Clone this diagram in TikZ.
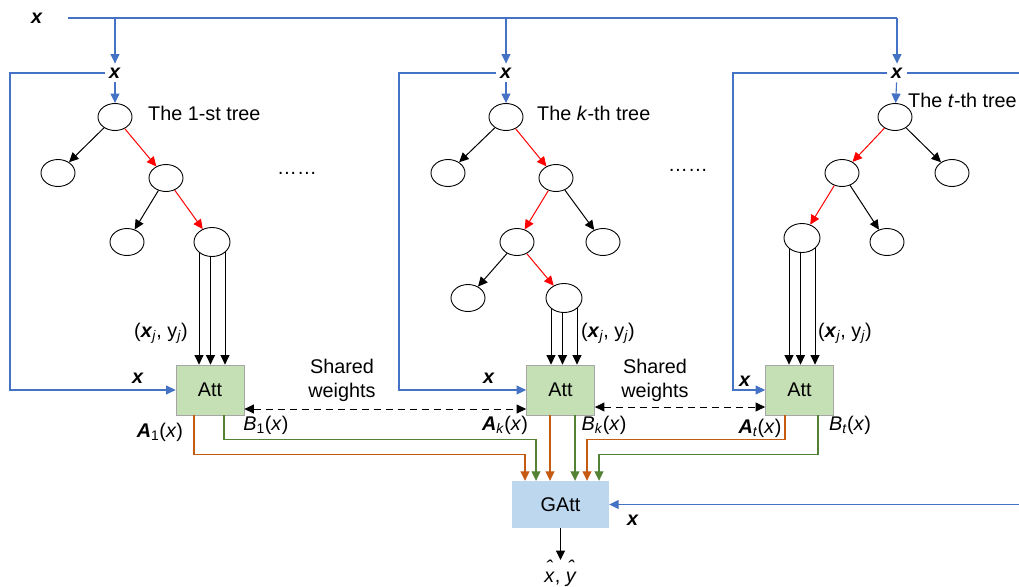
\documentclass[tikz,border=0pt]{standalone}
\usepackage{fontspec}
\setmainfont{Liberation Sans}
\usetikzlibrary{arrows.meta,shapes.geometric,calc}
\definecolor{xblue}{HTML}{4472C4}
\definecolor{aorange}{HTML}{C55A11}
\definecolor{bgreen}{HTML}{548235}
\definecolor{attfill}{HTML}{C5E0B4}
\definecolor{gattfill}{HTML}{BDD7EE}
\pgfdeclarelayer{background}
\pgfsetlayers{background,main}
\newcommand{\bx}{\textbf{\textit{x}}}
% italic letter with a circumflex set well above it
\newcommand{\hatit}[1]{\setbox0\hbox{\textit{#1}}\rlap{\hbox to\wd0{\hss\raisebox{0.40em}{\textit{ˆ}}\hss}}\box0}
\tikzset{
  txt/.style={font=\fontsize{19.8}{23.8}\selectfont, inner sep=0pt},
  tn/.style={ellipse, draw, fill=white, line width=0.9pt, minimum width=34pt, minimum height=27pt, inner sep=0pt},
  leaf/.style={tn, minimum width=36pt, minimum height=29pt},
  att/.style={draw=black!35, fill=attfill, line width=0.8pt, minimum width=68pt, minimum height=50pt, inner sep=0pt, font=\fontsize{19.8}{23.8}\selectfont},
  gatt/.style={fill=gattfill, minimum width=97pt, minimum height=47pt, inner sep=0pt, font=\fontsize{19.8}{23.8}\selectfont},
  tip/.style={-{Triangle[length=9.5pt,width=9pt]}},
  bl/.style={draw=xblue, line width=1.1pt},
  bla/.style={bl, tip, color=xblue},
  blk/.style={draw=black, line width=1pt, tip},
  rd/.style={draw=red, line width=1pt, tip, color=red},
  org/.style={draw=aorange, line width=1.1pt, tip, color=aorange},
  grn/.style={draw=bgreen, line width=1.1pt, tip, color=bgreen},
  shw/.style={draw=black, line width=1pt, dash pattern=on 7pt off 5pt, {Triangle[length=9.5pt,width=9pt]}-{Triangle[length=9.5pt,width=9pt]}},
}
\begin{document}
\begin{tikzpicture}[x=1pt,y=-1pt]
\useasboundingbox (0,0) rectangle (1019,586);

% input labels
\node[txt] (x0) at (37,18) {\bx};
\node[txt, inner sep=4pt] (x1) at (115,73) {\bx};
\node[txt, inner sep=4pt] (xk) at (506,73) {\bx};
\node[txt, inner sep=4pt] (xt) at (897,73) {\bx};
\coordinate (xs) at (68,18);

% first tree
\node[tn] (r1) at (115,117) {};
\node[tn] (a1) at (58,173) {};
\node[tn] (b1) at (166,178) {};
\node[tn] (c1) at (127,242) {};
\node[leaf] (L1) at (212,242) {};
% k-th tree
\node[tn] (rk) at (506,117) {};
\node[tn] (ak) at (448,173) {};
\node[tn] (bk) at (556,178) {};
\node[tn] (ck) at (517,242) {};
\node[tn] (dk) at (603,242) {};
\node[tn] (ek) at (468,298) {};
\node[leaf] (Lk) at (564,298) {};
% t-th tree
\node[tn] (rt) at (895,117) {};
\node[tn] (at) at (842,173) {};
\node[tn] (bt) at (952,173) {};
\node[leaf] (Lt) at (802,238) {};
\node[tn] (ct) at (887,242) {};

% attention blocks
\node[att] (A1) at (210,390) {Att};
\node[att] (Ak) at (560.5,390) {Att};
\node[att] (At) at (799.5,390) {Att};
\node[gatt] (G) at (560.5,504.5) {GAtt};
\node[txt, anchor=north] (out) at (560.5,560) {\hatit{x}, \hatit{y}};

% texts
\node[txt, anchor=west] (t1) at (148,113) {The 1-st tree};
\node[txt, anchor=west] (tk) at (537,113) {The \textit{k}-th tree};
\node[txt, anchor=west] (tt) at (908,100) {The \textit{t}-th tree};
\node[txt] (d1) at (297,173) {……};
\node[txt] (d2) at (688,170) {……};
\node[txt] (p1) at (161,333) {(\bx\textsubscript{\textit{j}}, y\textsubscript{\textit{j}})};
\node[txt] (pk) at (608,333) {(\bx\textsubscript{\textit{j}}, y\textsubscript{\textit{j}})};
\node[txt] (pt) at (845,333) {(\bx\textsubscript{\textit{j}}, y\textsubscript{\textit{j}})};
\node[txt] (i1) at (138,378) {\bx};
\node[txt] (ik) at (489,378) {\bx};
\node[txt] (it) at (745,381) {\bx};
\node[txt] (ig) at (633,520) {\bx};
\node[txt, align=center] (s1) at (342,380) {Shared\\weights};
\node[txt, align=center] (s2) at (655,380) {Shared\\weights};
\node[txt] (la1) at (160,432) {\textbf{\textit{A}}\textsubscript{1}(\textit{x})};
\node[txt] (lb1) at (266,425) {\textit{B}\textsubscript{1}(\textit{x})};
\node[txt] (lak) at (505,425) {\textbf{\textit{A}}\textsubscript{\textit{k}}(\textit{x})};
\node[txt] (lbk) at (604,425) {\textit{B}\textsubscript{\textit{k}}(\textit{x})};
\node[txt] (lat) at (760,428) {\textbf{\textit{A}}\textsubscript{\textit{t}}(\textit{x})};
\node[txt] (lbt) at (850,425) {\textit{B}\textsubscript{\textit{t}}(\textit{x})};

% input x distribution
\draw[bl] (xs) -- (xs -| xt) coordinate (xtop);
\draw[bla] (xtop) -- (xt);
\draw[bla] (xs -| x1) -- (x1);
\draw[bla] (xs -| xk) -- (xk);
\draw[bla] (x1) -- (r1);
\draw[bla] (xk) -- (rk);
\draw[bla] (xt) -- (rt);
% x passed to each attention block
\draw[bla] (x1.west) -- (10,73) |- (A1.west);
\draw[bla] (xk.west) -- (399,73) |- (Ak.west);
\draw[bla] (xt.west) -- (733,73) |- (At.west);
\draw[bl] (xt.east) -- (1019,73);
\draw[bla] (1019,504.5) -- (G.east);

% tree edges
\draw[blk] (r1) -- (a1);
\draw[rd] (r1) -- (b1);
\draw[blk] (b1) -- (c1);
\draw[rd] (b1) -- (L1);
\draw[blk] (rk) -- (ak);
\draw[rd] (rk) -- (bk);
\draw[rd] (bk) -- (ck);
\draw[blk] (bk) -- (dk);
\draw[blk] (ck) -- (ek);
\draw[rd] (ck) -- (Lk);
\draw[rd] (rt) -- (at);
\draw[blk] (rt) -- (bt);
\draw[rd] (at) -- (Lt);
\draw[blk] (at) -- (ct);

% samples falling into the reached leaves
\begin{pgfonlayer}{background}
\foreach \L/\A in {L1/A1, Lk/Ak, Lt/At}{
  \foreach \d in {-13,-1.5,13}{
    \draw[blk] ([xshift=\d pt]\L.center) -- ([xshift=\d pt]\L.center |- \A.north);
  }
}
\end{pgfonlayer}

% shared weights
\draw[shw] ([yshift=-19pt]A1.east) -- ([yshift=-19pt]Ak.west);
\draw[shw] ([yshift=-17pt]Ak.east) -- ([yshift=-17pt]At.west);

% outputs to the global attention
\draw[org] ([xshift=-16pt]A1.south) -- ++(0,39) -| ([xshift=-35.5pt]G.north);
\draw[grn] ([xshift=14pt]A1.south) -- ++(0,24) -| ([xshift=-24.5pt]G.north);
\draw[org] ([xshift=-10.5pt]Ak.south) -- ([xshift=-10.5pt]G.north);
\draw[grn] ([xshift=14.5pt]Ak.south) -- ([xshift=14.5pt]G.north);
\draw[org] ([xshift=-14.5pt]At.south) -- ++(0,24) -| ([xshift=26.5pt]G.north);
\draw[grn] ([xshift=18.5pt]At.south) -- ++(0,39) -| ([xshift=38.5pt]G.north);

% final prediction
\draw[blk] (G) -- (out.north);
\end{tikzpicture}
\end{document}
